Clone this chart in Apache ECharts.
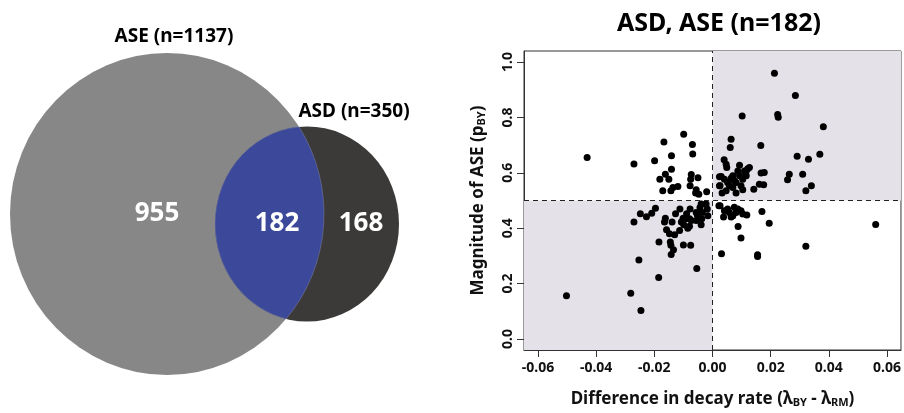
<!DOCTYPE html>
<html>
<head>
<meta charset="utf-8">
<script src="https://cdn.jsdelivr.net/npm/echarts@6/dist/echarts.min.js"></script>
<style>
  html, body { margin: 0; padding: 0; background: #fff; }
  #chart { width: 904px; height: 413px; }
</style>
</head>
<body>
<div id="chart"></div>
<script>
// Venn data
const vennSets = ['ASE', 'ASD']
const vennTotals = [1137, 350]
const vennParts = [955, 182, 168] // ASE only, both, ASD only

// scatter: decay rate difference (x) vs ASE magnitude (y)
const decayDiff = [
  -0.0431, -0.0270, -0.0199, -0.0167, -0.0099, -0.0069, -0.0068, -0.0141, -0.0141, -0.0162,
  -0.0181, -0.0150, -0.0171, -0.0136, -0.0119, -0.0143, -0.0073, -0.0050, -0.0075, -0.0077,
  -0.0056, -0.0047, -0.0020, -0.0058, 0.0024, 0.0024,
  0.0213, 0.0285, 0.0102, 0.0224, 0.0226, 0.0381, 0.0064, 0.0061, 0.0166, 0.0291,
  0.0330, 0.0369, 0.0040, 0.0047, 0.0049, 0.0093, 0.0127, 0.0116, 0.0167, 0.0178,
  0.0264, 0.0258, 0.0310, 0.0161, 0.0176, 0.0142, 0.0340, 0.0321,
  0.0030, 0.0041, 0.0070, 0.0093, 0.0110, 0.0104, 0.0081, 0.0058, 0.0026, 0.0070,
  0.0098, 0.0047, 0.0033, 0.0081, 0.0104, 0.0121, 0.0052, 0.0087, 0.0075, 0.0116, 0.0064,
  -0.0502, -0.0281, -0.0246, -0.0253, -0.0185, -0.0054, -0.0270, -0.0248, -0.0227, -0.0209,
  -0.0196, -0.0184, -0.0162, -0.0158, -0.0165, -0.0148, -0.0145, -0.0143, -0.0134, -0.0142,
  -0.0130, -0.0139, -0.0113, -0.0100, -0.0075, -0.0127, -0.0112, -0.0101, -0.0099, -0.0085,
  -0.0079, -0.0079, -0.0056, -0.0039, -0.0037, -0.0035, -0.0022, -0.0043, -0.0077, -0.0089,
  -0.0056, -0.0018, -0.0073, -0.0107, -0.0090, -0.0052, -0.0016, -0.0039, 0.0022,
  0.0561, 0.0321, 0.0195, 0.0170, 0.0118, 0.0088, 0.0098, 0.0031, 0.0155, 0.0155,
  0.0038, 0.0026, 0.0041, 0.0058, 0.0070, 0.0075, 0.0087, 0.0098, 0.0104, 0.0064, 0.0052, 0.0081
]
const aseMagnitude = [
  0.655, 0.632, 0.644, 0.711, 0.739, 0.702, 0.668, 0.662, 0.613, 0.595,
  0.577, 0.577, 0.535, 0.547, 0.551, 0.535, 0.594, 0.582, 0.577, 0.553,
  0.539, 0.523, 0.532, 0.527, 0.586, 0.553,
  0.960, 0.879, 0.805, 0.811, 0.801, 0.766, 0.721, 0.691, 0.699, 0.660,
  0.649, 0.667, 0.647, 0.631, 0.619, 0.627, 0.619, 0.607, 0.599, 0.601,
  0.595, 0.575, 0.595, 0.559, 0.557, 0.541, 0.553, 0.535,
  0.587, 0.577, 0.589, 0.589, 0.607, 0.577, 0.565, 0.553, 0.553, 0.547,
  0.553, 0.535, 0.527, 0.527, 0.539, 0.615, 0.565, 0.607, 0.571, 0.589, 0.580,
  0.156, 0.165, 0.103, 0.285, 0.222, 0.254, 0.422, 0.452, 0.441, 0.454,
  0.472, 0.350, 0.436, 0.394, 0.422, 0.380, 0.350, 0.338, 0.322, 0.305,
  0.376, 0.422, 0.392, 0.339, 0.338, 0.452, 0.469, 0.436, 0.412, 0.400,
  0.407, 0.434, 0.457, 0.412, 0.434, 0.457, 0.487, 0.475, 0.469, 0.452,
  0.428, 0.469, 0.428, 0.422, 0.434, 0.448, 0.445, 0.487, 0.481,
  0.413, 0.335, 0.418, 0.460, 0.448, 0.406, 0.365, 0.308, 0.298, 0.304,
  0.440, 0.481, 0.463, 0.457, 0.445, 0.476, 0.469, 0.463, 0.451, 0.440, 0.469, 0.457
]
const xTicks = [-0.06, -0.04, -0.02, 0, 0.02, 0.04, 0.06]
const yTicks = [0, 0.2, 0.4, 0.6, 0.8, 1.0]

const X_MIN = -0.0648, X_MAX = 0.0648
const Y_MIN = -0.04, Y_MAX = 1.04
const FONT = '"Noto Sans", sans-serif'

// venn layout (pixels)
const bigE = { cx: 167, cy: 214, rx: 157, ry: 161 }
const smallE = { cx: 307, cy: 224, rx: 92, ry: 97.5 }

const insideBig = (x, y) =>
  Math.pow((x - bigE.cx) / bigE.rx, 2) + Math.pow((y - bigE.cy) / bigE.ry, 2) - 1

const smallPt = (t) => [smallE.cx + smallE.rx * Math.cos(t), smallE.cy + smallE.ry * Math.sin(t)]

// bisection for where the small ellipse crosses the big one
const findCross = (lo, hi) => {
  const inLo = insideBig(...smallPt(lo)) < 0
  for (let i = 0; i < 60; i++) {
    const mid = (lo + hi) / 2
    if ((insideBig(...smallPt(mid)) < 0) === inLo) lo = mid
    else hi = mid
  }
  return smallPt((lo + hi) / 2)
}

const ellipsePath = (e) =>
  `M ${e.cx - e.rx} ${e.cy} A ${e.rx} ${e.ry} 0 1 1 ${e.cx + e.rx} ${e.cy} A ${e.rx} ${e.ry} 0 1 1 ${e.cx - e.rx} ${e.cy} Z`

const renderVenn = (params, api) => {
  const p1 = findCross(-Math.PI, -Math.PI / 2)
  const p2 = findCross(Math.PI, Math.PI / 2)
  const lens = `M ${p1[0]} ${p1[1]} A ${smallE.rx} ${smallE.ry} 0 0 0 ${p2[0]} ${p2[1]} ` +
    `A ${bigE.rx} ${bigE.ry} 0 0 0 ${p1[0]} ${p1[1]} Z`
  const numStyle = { fill: '#fff', fontSize: 26, fontWeight: 'bold', fontFamily: FONT, align: 'center', verticalAlign: 'middle' }
  const headStyle = { fill: '#000', fontSize: 19, fontWeight: 'bold', fontFamily: FONT, align: 'center', verticalAlign: 'middle' }
  return {
    type: 'group',
    children: [
      { type: 'path', shape: { pathData: ellipsePath(bigE) }, style: { fill: '#878787' } },
      { type: 'path', shape: { pathData: ellipsePath(smallE) }, style: { fill: '#3b3a39' } },
      { type: 'path', shape: { pathData: lens }, style: { fill: '#3c4899', stroke: '#7d82a6', lineWidth: 0.5 } },
      { type: 'text', x: 174, y: 37, style: Object.assign({ text: `${vennSets[0]} (n=${vennTotals[0]})` }, headStyle) },
      { type: 'text', x: 354, y: 112, style: Object.assign({ text: `${vennSets[1]} (n=${vennTotals[1]})` }, headStyle) },
      { type: 'text', x: 157, y: 214, style: Object.assign({ text: String(vennParts[0]) }, numStyle) },
      { type: 'text', x: 277, y: 224, style: Object.assign({ text: String(vennParts[1]) }, numStyle) },
      { type: 'text', x: 361, y: 224, style: Object.assign({ text: String(vennParts[2]) }, numStyle) }
    ]
  }
}

const points = decayDiff.map((x, i) => [x, aseMagnitude[i]])

const chart = echarts.init(document.getElementById('chart'))

const subStyle = { fontFamily: FONT, fontSize: 11, fontWeight: 'bold', color: '#111', verticalAlign: 'bottom', padding: [6, 0, 0, 0] }

const option = {
  animation: false,
  backgroundColor: '#fff',
  title: {
    text: 'ASD, ASE (n=182)',
    left: 714,
    top: 6,
    textAlign: 'center',
    textStyle: { fontFamily: FONT, fontSize: 25, fontWeight: 'bold', color: '#000' }
  },
  grid: {
    left: 524,
    right: 2,
    top: 51,
    bottom: 61,
    show: true,
    borderColor: '#333',
    borderWidth: 1,
    backgroundColor: 'transparent'
  },
  xAxis: {
    type: 'value',
    min: X_MIN,
    max: X_MAX,
    splitLine: { show: false },
    axisLine: { show: true, onZero: false, lineStyle: { color: '#333' } },
    axisTick: { show: true, inside: false, length: 7, customValues: xTicks, lineStyle: { color: '#333' } },
    axisLabel: {
      customValues: xTicks,
      margin: 11,
      fontFamily: FONT,
      fontSize: 14,
      fontWeight: 'bold',
      color: '#111',
      formatter: (v) => v.toFixed(2)
    },
    name: 'Difference in decay rate (λ{s|BY} - λ{s|RM})',
    nameLocation: 'middle',
    nameGap: 41,
    nameTextStyle: {
      fontFamily: FONT,
      fontSize: 17,
      fontWeight: 'bold',
      color: '#111',
      rich: { s: subStyle }
    }
  },
  yAxis: {
    type: 'value',
    min: Y_MIN,
    max: Y_MAX,
    splitLine: { show: false },
    axisLine: { show: true, onZero: false, lineStyle: { color: '#333' } },
    axisTick: { show: true, inside: false, length: 7, customValues: yTicks, lineStyle: { color: '#333' } },
    axisLabel: {
      customValues: yTicks,
      rotate: 90,
      margin: 9,
      fontFamily: FONT,
      fontSize: 14,
      fontWeight: 'bold',
      color: '#111',
      formatter: (v) => v.toFixed(1)
    },
    name: 'Magnitude of ASE (p{s|BY})',
    nameLocation: 'middle',
    nameGap: 37,
    nameTextStyle: {
      fontFamily: FONT,
      fontSize: 17,
      fontWeight: 'bold',
      color: '#111',
      rich: { s: subStyle }
    }
  },
  series: [
    {
      type: 'scatter',
      data: points,
      symbolSize: 7,
      itemStyle: { color: '#000', opacity: 1 },
      z: 3,
      markArea: {
        silent: true,
        itemStyle: { color: '#e4e2e8' },
        data: [
          [{ coord: [0, 0.5] }, { coord: [X_MAX, Y_MAX] }],
          [{ coord: [X_MIN, Y_MIN] }, { coord: [0, 0.5] }]
        ]
      },
      markLine: {
        silent: true,
        symbol: 'none',
        label: { show: false },
        lineStyle: { color: '#222', type: [5, 4], width: 1 },
        data: [{ xAxis: 0 }, { yAxis: 0.5 }]
      }
    },
    {
      type: 'custom',
      coordinateSystem: 'none',
      renderItem: renderVenn,
      data: [0],
      silent: true
    }
  ]
}

chart.setOption(option)
</script>
</body>
</html>
